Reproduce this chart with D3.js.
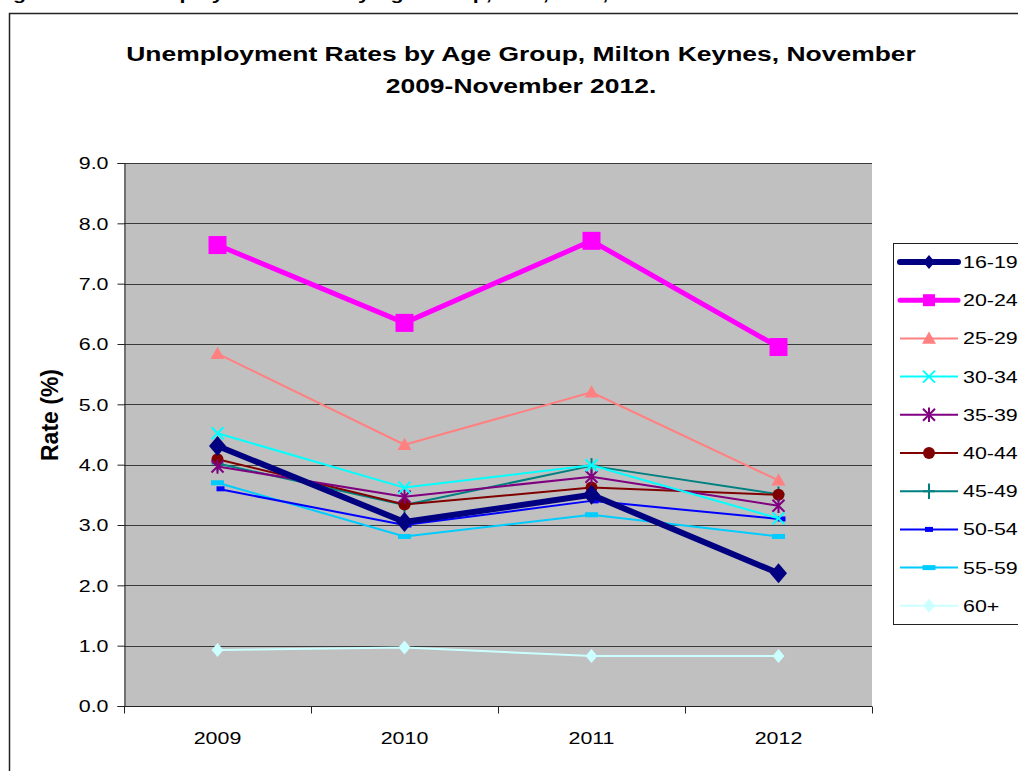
<!DOCTYPE html>
<html>
<head>
<meta charset="utf-8">
<script src="https://cdn.jsdelivr.net/npm/d3@7"></script>
<style>
  body { margin: 0; background: #fff; }
  svg { display: block; font-family: "Liberation Sans", Arial, sans-serif; }
</style>
</head>
<body>
<div id="chart"></div>
<script>
const years = ['2009', '2010', '2011', '2012']
const groups = ['16-19', '20-24', '25-29', '30-34', '35-39', '40-44', '45-49', '50-54', '55-59', '60+']
const rate1619 = [4.31, 3.05, 3.50, 2.20]
const rate2024 = [7.64, 6.35, 7.71, 5.95]
const rate2529 = [5.84, 4.33, 5.20, 3.74]
const rate3034 = [4.52, 3.62, 3.99, 3.11]
const rate3539 = [3.97, 3.47, 3.80, 3.32]
const rate4044 = [4.09, 3.34, 3.62, 3.50]
const rate4549 = [4.02, 3.33, 3.98, 3.51]
const rate5054 = [3.60, 3.00, 3.40, 3.10]
const rate5559 = [3.70, 2.81, 3.17, 2.81]
const rate60 = [0.93, 0.97, 0.83, 0.83]
const yTicks = [0, 1, 2, 3, 4, 5, 6, 7, 8, 9]

const seriesValues = [rate1619, rate2024, rate2529, rate3034, rate3539, rate4044, rate4549, rate5054, rate5559, rate60]

// look of each series (colour, line width, marker)
const styles = [
    {color: '#000080', width: 6, marker: 'diamond', size: 10},
    {color: '#ff00ff', width: 5, marker: 'square', size: 9},
    {color: '#ff8080', width: 2, marker: 'triangle', size: 7},
    {color: '#00ffff', width: 2, marker: 'x', size: 6},
    {color: '#800080', width: 2, marker: 'star', size: 6},
    {color: '#800000', width: 2, marker: 'circle', size: 6},
    {color: '#008080', width: 2, marker: 'plus', size: 6},
    {color: '#0000ff', width: 2, marker: 'dash', size: 4, dx: 3},
    {color: '#00ccff', width: 2, marker: 'dash', size: 6.5},
    {color: '#ccffff', width: 2, marker: 'diamond', size: 7}
]

const W = 1018, H = 771
const plot = {left: 124, top: 163, right: 872, bottom: 706}
// the original picture is stretched sideways, so text is widened too
const SX = 1.26

const svg = d3.select('#chart').append('svg')
    .attr('width', W)
    .attr('height', H)

function wideText(parent, x, y, str, size, anchor, bold){
    return parent.append('text')
        .attr('transform', 'translate(' + x + ',' + y + ') scale(' + SX + ',1)')
        .attr('text-anchor', anchor || 'start')
        .attr('font-size', size + 'px')
        .attr('font-weight', bold ? 'bold' : 'normal')
        .text(str)
}

// cut-off caption at the very top
wideText(svg, -6, -0.5, 'Figure 10.1: Unemployment Rates by Age Group, M.K., 2009, 2012', 17, 'start', true)

// chart frame
svg.append('rect')
    .attr('x', 9.5)
    .attr('y', 13.5)
    .attr('width', W + 20)
    .attr('height', H + 20)
    .attr('fill', '#fff')
    .attr('stroke', '#222')
    .attr('stroke-width', 1.5)

// title
wideText(svg, 521, 61, 'Unemployment Rates by Age Group, Milton Keynes, November', 21, 'middle', true)
wideText(svg, 521, 93, '2009-November 2012.', 21, 'middle', true)

const xScale = d3.scaleBand()
    .domain(years)
    .range([plot.left, plot.right])

const yScale = d3.scaleLinear()
    .domain([0, 9])
    .range([plot.bottom, plot.top])

svg.append('rect')
    .attr('x', plot.left)
    .attr('y', plot.top)
    .attr('width', plot.right - plot.left)
    .attr('height', plot.bottom - plot.top)
    .attr('fill', '#c0c0c0')

// gridlines
svg.append('g')
    .selectAll('line')
    .data(yTicks.slice(1))
    .enter()
    .append('line')
    .attr('x1', plot.left)
    .attr('x2', plot.right)
    .attr('y1', d => Math.round(yScale(d)) + 0.5)
    .attr('y2', d => Math.round(yScale(d)) + 0.5)
    .attr('stroke', '#3a3a3a')
    .attr('stroke-width', 1)

// y axis
const yAxis = svg.append('g')
    .attr('transform', 'translate(' + (plot.left + 0.5) + ',0)')
    .call(d3.axisLeft(yScale).tickValues(yTicks).tickFormat(d3.format('.1f')).tickSize(7).tickPadding(9))
yAxis.select('.domain').attr('stroke', '#222')
yAxis.selectAll('.tick line').attr('stroke', '#222')
yAxis.selectAll('text')
    .attr('x', 0)
    .attr('dy', '0.34em')
    .attr('transform', 'translate(-16,0) scale(' + SX + ',1)')
    .attr('font-family', '"Liberation Sans", Arial, sans-serif')
    .attr('font-size', '17px')
    .attr('fill', '#000')

// x axis: ticks sit between categories
const xAxis = svg.append('g')
    .attr('transform', 'translate(0,' + (plot.bottom + 0.5) + ')')
xAxis.append('line')
    .attr('x1', plot.left)
    .attr('x2', plot.right)
    .attr('stroke', '#222')
xAxis.selectAll('.xtick')
    .data(years.concat(['end']))
    .enter()
    .append('line')
    .attr('x1', (d, i) => Math.round(plot.left + i * xScale.bandwidth()) + 0.5)
    .attr('x2', (d, i) => Math.round(plot.left + i * xScale.bandwidth()) + 0.5)
    .attr('y1', 0)
    .attr('y2', 7)
    .attr('stroke', '#222')
years.forEach(function(d){
    wideText(xAxis, xScale(d) + xScale.bandwidth() / 2, 37.5, d, 17, 'middle')
})

// y axis title
svg.append('text')
    .attr('transform', 'translate(58,415) rotate(-90)')
    .attr('text-anchor', 'middle')
    .attr('font-size', '23px')
    .attr('font-weight', 'bold')
    .text('Rate (%)')

function drawMarker(g, st, cx, cy){
    const s = st.size
    cx += (st.dx || 0)
    if (st.marker === 'diamond'){
        g.append('path')
            .attr('d', `M${cx},${cy - s}L${cx + s * 0.85},${cy}L${cx},${cy + s}L${cx - s * 0.85},${cy}Z`)
            .attr('fill', st.color)
    } else if (st.marker === 'square'){
        g.append('rect')
            .attr('x', cx - s).attr('y', cy - s)
            .attr('width', 2 * s).attr('height', 2 * s)
            .attr('fill', st.color)
    } else if (st.marker === 'triangle'){
        g.append('path')
            .attr('d', `M${cx},${cy - s}L${cx + s},${cy + s * 0.75}L${cx - s},${cy + s * 0.75}Z`)
            .attr('fill', st.color)
    } else if (st.marker === 'circle'){
        g.append('circle')
            .attr('cx', cx).attr('cy', cy).attr('r', s)
            .attr('fill', st.color)
    } else if (st.marker === 'dash'){
        g.append('rect')
            .attr('x', cx - s).attr('y', cy - 2.5)
            .attr('width', 2 * s).attr('height', 5)
            .attr('fill', st.color)
    } else {
        let d = ''
        if (st.marker === 'x' || st.marker === 'star'){
            d += `M${cx - s},${cy - s}L${cx + s},${cy + s}M${cx - s},${cy + s}L${cx + s},${cy - s}`
        }
        if (st.marker === 'star'){
            d += `M${cx},${cy - s * 1.2}L${cx},${cy + s * 1.2}`
        }
        if (st.marker === 'plus'){
            d += `M${cx - s},${cy}L${cx + s},${cy}M${cx},${cy - s * 1.3}L${cx},${cy + s * 1.3}`
        }
        g.append('path')
            .attr('d', d)
            .attr('fill', 'none')
            .attr('stroke', st.color)
            .attr('stroke-width', 2)
    }
}

const line = d3.line()
    .x((d, i) => xScale(years[i]) + xScale.bandwidth() / 2)
    .y(d => yScale(d))

// draw from last to first so the thick series sit on top
for (let k = seriesValues.length - 1; k >= 0; k--){
    const st = styles[k]
    const g = svg.append('g')
    g.append('path')
        .datum(seriesValues[k])
        .attr('d', line)
        .attr('fill', 'none')
        .attr('stroke', st.color)
        .attr('stroke-width', st.width)
        .attr('stroke-linejoin', 'round')
    seriesValues[k].forEach(function(v, i){
        drawMarker(g, st, xScale(years[i]) + xScale.bandwidth() / 2, yScale(v))
    })
}

// legend
const legend = svg.append('g')
legend.append('rect')
    .attr('x', 893.5)
    .attr('y', 243.5)
    .attr('width', 140)
    .attr('height', 381)
    .attr('fill', '#fff')
    .attr('stroke', '#222')
    .attr('stroke-width', 1)

groups.forEach(function(name, i){
    const st = styles[i]
    const cy = 262 + i * 38.2
    const g = legend.append('g')
    g.append('line')
        .attr('x1', 900).attr('x2', 958)
        .attr('y1', cy).attr('y2', cy)
        .attr('stroke', st.color)
        .attr('stroke-width', st.width)
        .attr('stroke-linecap', st.width > 3 ? 'round' : 'butt')
    drawMarker(g, Object.assign({}, st, {size: st.marker === 'square' ? 6 : (st.marker === 'diamond' && i === 0 ? 7 : st.size), dx: 0}), 929, cy)
    wideText(g, 963, cy + 6, name, 17, 'start')
})
</script>
</body>
</html>
